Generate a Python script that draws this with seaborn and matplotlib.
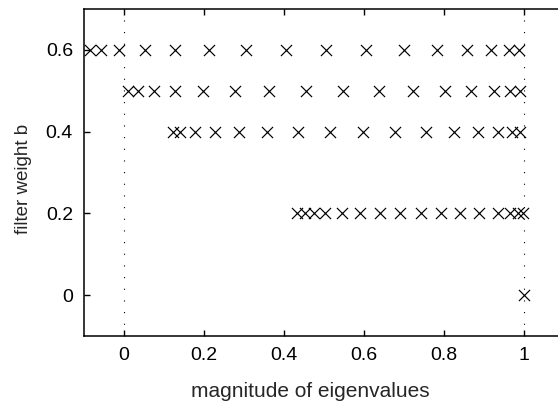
import matplotlib
matplotlib.use("Agg")
import matplotlib.pyplot as plt
import seaborn as sns
import pandas as pd

# eigenvalue magnitudes for each filter weight b
mag_b06 = [-0.085, -0.058, -0.012, 0.052, 0.127, 0.212, 0.306, 0.404, 0.504, 0.604,
           0.699, 0.783, 0.858, 0.918, 0.963, 0.988]
mag_b05 = [0.010, 0.035, 0.074, 0.128, 0.197, 0.277, 0.362, 0.454, 0.547, 0.637,
           0.722, 0.802, 0.868, 0.926, 0.966, 0.990]
mag_b04 = [0.122, 0.140, 0.177, 0.227, 0.287, 0.357, 0.434, 0.514, 0.597, 0.677,
           0.754, 0.824, 0.885, 0.935, 0.970, 0.989]
mag_b02 = [0.433, 0.453, 0.475, 0.503, 0.545, 0.591, 0.641, 0.689, 0.743, 0.793,
           0.839, 0.887, 0.935, 0.964, 0.985, 0.997]
mag_b00 = [1.0]
weights = [0.6, 0.5, 0.4, 0.2, 0.0]

xticks = [0, 0.2, 0.4, 0.6, 0.8, 1]
xticklabels = ["0", "0.2", "0.4", "0.6", "0.8", "1"]
yticks = [0, 0.2, 0.4, 0.6]
yticklabels = ["0", "0.2", "0.4", "0.6"]

rows = []
for b, mags in zip(weights, [mag_b06, mag_b05, mag_b04, mag_b02, mag_b00]):
    for m in mags:
        rows.append({"magnitude": m, "b": b})
df = pd.DataFrame(rows)

sns.set_style("ticks")
plt.rcParams["font.family"] = ["Liberation Sans", "DejaVu Sans"]

fig = plt.figure(figsize=(5.58, 4.03), dpi=100)
ax = fig.add_axes([84 / 558, 67 / 403, 480 / 558, 327 / 403])

ax.axvline(0, color="black", lw=0.8, ls=(0, (1, 9.5)), zorder=1)
ax.axvline(1, color="black", lw=0.8, ls=(0, (1, 9.5)), zorder=1)

sns.scatterplot(data=df, x="magnitude", y="b", marker="x", color="black",
                s=64, linewidth=0.85, ax=ax, zorder=3)

ax.set_xlim(-0.1, 1.1)
ax.set_ylim(-0.1, 0.7)
ax.set_xticks(xticks)
ax.set_xticklabels(xticklabels)
ax.set_yticks(yticks)
ax.set_yticklabels(yticklabels)
ax.tick_params(direction="in", length=4, width=1, labelsize=14, pad=8,
               top=True, right=False, colors="black")
for sp in ax.spines.values():
    sp.set_linewidth(1.1)
    sp.set_color("black")
ax.spines["right"].set_visible(False)

ax.set_xlabel("magnitude of eigenvalues", fontsize=15)
ax.set_ylabel("filter weight b", fontsize=13.5)
ax.xaxis.set_label_coords(310 / 558, 1 - 382 / 403, transform=fig.transFigure)
ax.yaxis.set_label_coords(32 / 558, 1 - 179 / 403, transform=fig.transFigure)

fig.savefig("out.png", dpi=100)
